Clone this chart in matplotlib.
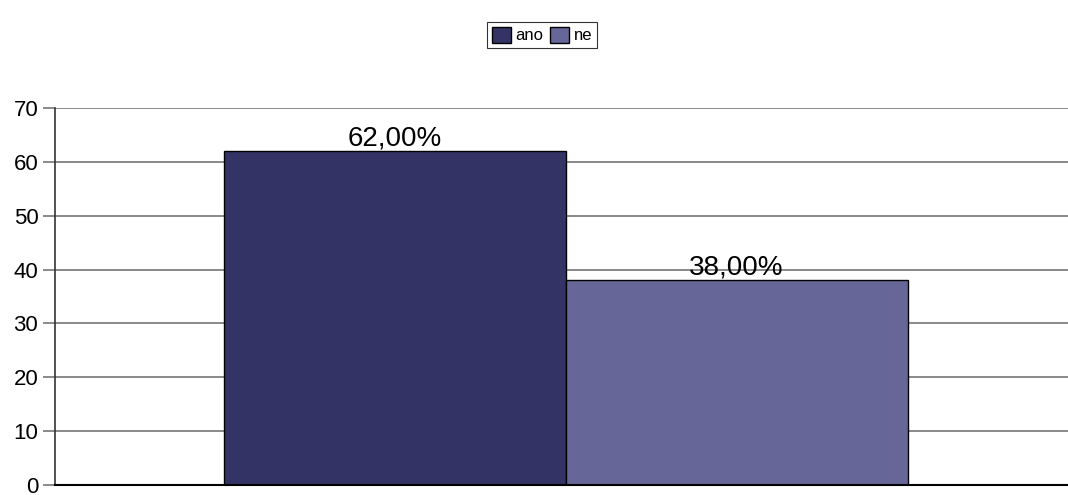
import matplotlib
matplotlib.use("Agg")
import matplotlib.pyplot as plt
import numpy as np

plt.rcParams['font.family'] = ['Liberation Sans', 'DejaVu Sans']

series = ["ano", "ne"]
values = [62.0, 38.0]
colors = ["#333366", "#666699"]
yticks = [0, 10, 20, 30, 40, 50, 60, 70]

fig = plt.figure(figsize=(10.68, 4.95), dpi=100)
ax = fig.add_axes([0.0515, 0.0202, 0.9485, 0.7616])

width = 0.3376
offsets = np.array([-0.5, 0.5]) * width
handles = []
for off, val, col, name in zip(offsets, values, colors, series):
    b = ax.bar(0 + off, val, width=width, color=col, edgecolor="black",
               linewidth=1, label=name, zorder=2)
    handles.append(b)
    ax.annotate(f"{val:.2f}".replace(".", ",") + "%", (off, val),
                xytext=(0, 4), textcoords="offset points",
                ha="center", va="baseline", fontsize=20, zorder=4)

ax.set_xlim(-0.504, 0.496)
ax.set_ylim(0, 70)
ax.set_yticks(yticks)
ax.set_xticks([])
ax.yaxis.grid(True, color="#6a6a6a", linewidth=1.1)
ax.set_axisbelow(True)
ax.tick_params(axis="y", length=9, width=1.1, pad=3, labelsize=16,
               color="#6a6a6a")
for s in ["top", "right"]:
    ax.spines[s].set_visible(False)
ax.spines["left"].set_linewidth(1.2)
ax.spines["left"].set_color("#333333")
ax.spines["bottom"].set_linewidth(1.5)

leg = fig.legend(handles=handles, labels=series, loc="upper center",
                 bbox_to_anchor=(0.5077, 0.956), ncol=2, fontsize=12,
                 frameon=True, fancybox=False, edgecolor="black",
                 handlelength=1.1, handleheight=1.1, handletextpad=0.3,
                 columnspacing=0.4, borderpad=0.3, borderaxespad=0)
leg.get_frame().set_linewidth(0.8)

fig.savefig("out.png", dpi=100)
